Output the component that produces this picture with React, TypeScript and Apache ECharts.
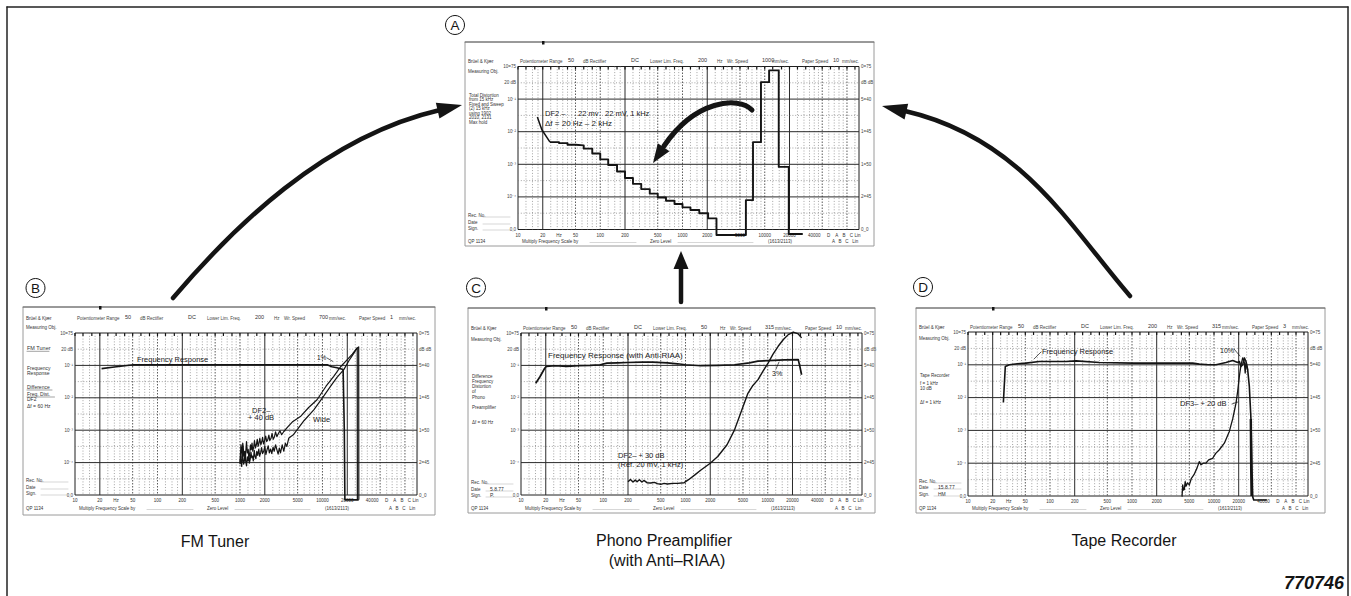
import React, { useEffect, useRef } from 'react';
import * as echarts from 'echarts';

// ---------------- shared scale data ----------------
const thirdOctaveMarks = [10, 12.5, 16, 20, 25, 31.5, 40, 50, 63, 80, 100, 125, 160, 200, 250, 315, 400, 500, 630, 800, 1000, 1250, 1600, 2000, 2500, 3150, 4000, 5000, 6300, 8000, 10000, 12500, 16000, 20000, 25000, 31500, 40000, 50000, 63000, 80000, 100000, 125000];
const majorFreqs = [20, 200, 2000, 20000];
const midFreqs = [50, 100, 500, 1000, 5000, 10000, 50000, 100000];
const minorFreqs = [12.5, 15, 17.5, 25, 30, 35, 40, 45, 60, 70, 80, 90, 125, 150, 175, 250, 300, 350, 400, 450, 600, 700, 800, 900, 1250, 1500, 1750, 2500, 3000, 3500, 4000, 4500, 6000, 7000, 8000, 9000, 12500, 15000, 17500, 25000, 30000, 35000, 40000, 45000, 60000, 70000, 80000, 90000, 125000];
const majorLevels = [10, 20, 30, 40];
const minorLevels = [5, 15, 25, 35, 45];
const xTickFreqs = [10, 20, 31.5, 50, 100, 200, 500, 1000, 2000, 5000, 10000, 20000, 40000];
const xTickLabels = ['10', '20', 'Hz', '50', '100', '200', '500', '1000', '2000', '5000', '10000', '20000', '40000'];
const filterFreqs = [60000, 75000, 92000, 113000, 134000];
const filterLabels = ['D', 'A', 'B', 'C', 'Lin'];
const leftLevelLabels = ['0,0', '', '10⁻⁴', '', '10⁻³', '', '10⁻²', '', '10⁻¹', '20 dB', '10=75'];
const rightLevelLabels = ['0_0', '', '2=45', '', '1=50', '', '1=45', '', '5=40', 'dB dB', '0=75'];

const headerLabels = ['Potentiometer Range', 'dB Rectifier', 'Lower Lim. Freq.', 'Hz', 'Wr. Speed', 'mm/sec.', 'Paper Speed', 'mm/sec.'];
const infoLabels = ['QP 1134', 'Multiply Frequency Scale by', 'Zero Level', '(1613/2113)', 'A   B   C   Lin'];
const recLabels = ['Rec. No.', 'Date', 'Sign.'];

// ---------------- chart A : total distortion ----------------
const aHeaderValues = ['50', 'DC', '200', '1000', '10'];
const aDesc = ['Total Distortion', 'from 15 kHz', 'Fixed and Sweep', '(2) 15 kHz', 'using 1902', '2010, 2131', 'Max hold'];
const aRecValues = ['', '', ''];
const aSweepStart = [[17.2, 34.5], [18.5, 32.2], [19.5, 30.6], [24.5, 26.8]];
const aStaircase = [[24.5, 26.8], [31.5, 26.5], [40, 26.0], [50, 25.8], [63, 24.8], [80, 23.3], [100, 21.5], [125, 19.8], [160, 17.8], [200, 15.8], [250, 14.0], [315, 12.4], [400, 11.0], [500, 9.8], [630, 8.8], [800, 7.8], [1000, 6.8], [1250, 6.0], [1600, 5.0], [2050, 3.4], [2590, -1.7], [5900, 9.0], [7200, 26.8], [9000, 45.2], [11300, 48.8], [14800, 19.2], [19600, -1.4], [29000, -1.4]];

// ---------------- chart B : FM tuner ----------------
const bHeaderValues = ['50', 'DC', '200', '700', '1'];
const bDesc = ['FM Tuner', 'Frequency', 'Response', 'Difference', 'Freq. Dist.', 'DF2', 'Δf = 60 Hz'];
const bRecValues = ['', '', ''];
const bFreqResponse = [[21, 39.0], [30, 39.5], [51, 40.2], [200, 40.2], [2000, 40.2], [11400, 40.2], [13000, 39.6], [15000, 39.3], [17800, 38.7], [18400, 20], [18700, -1.5], [27500, -1.5]];
const bDistNarrow = [[1000, 10], [1015, 13], [1030, 15.5], [1045, 14], [1060, 11.5], [1080, 16], [1095, 15], [1110, 12], [1140, 13.5], [1160, 11], [1185, 14.5], [1200, 16.5], [1230, 13], [1260, 14], [1280, 11.5], [1310, 12.5], [1340, 15.5], [1370, 14], [1400, 16], [1430, 13.5], [1470, 15], [1500, 16.8], [1540, 14.5], [1580, 15.5], [1620, 17.2], [1660, 15], [1700, 16], [1740, 17.5], [1790, 15.5], [1840, 16.5], [1880, 17.8], [1930, 15.8], [1990, 16.8], [2050, 18.2], [2110, 16.5], [2170, 17], [2240, 18.5], [2300, 16.8], [2380, 17.5], [2450, 19], [2530, 17.2], [2620, 18], [2700, 19.5], [2800, 18], [2900, 18.8], [3050, 19.8], [3200, 18.6], [3400, 19.6], [3800, 21], [4300, 22.5], [5400, 24.2], [6800, 27], [8600, 29.4], [11000, 33.5], [13700, 36.6], [16500, 39.5], [20000, 41.8], [23000, 43.5], [25200, 44.8], [26400, 45.4], [26500, -1.5]];
const bDistWide = [[1000, 9.5], [1020, 12], [1035, 10], [1050, 8.8], [1075, 12.8], [1090, 11], [1110, 9.5], [1130, 10.5], [1150, 13], [1175, 10.2], [1200, 9], [1225, 11.8], [1250, 10.5], [1280, 12.5], [1300, 9.8], [1330, 11], [1360, 13.2], [1390, 11.5], [1420, 12], [1450, 10.5], [1490, 13.8], [1520, 12], [1560, 11.2], [1600, 13.5], [1640, 12.2], [1690, 14.2], [1730, 12], [1780, 13], [1830, 14.6], [1880, 12.8], [1940, 13.5], [2000, 15], [2060, 12.5], [2130, 14], [2200, 15.2], [2270, 13], [2350, 14.2], [2430, 12.8], [2520, 14.8], [2600, 13.5], [2700, 15.5], [2800, 14], [2900, 12.6], [3000, 14.5], [3100, 13], [3250, 15.5], [3400, 13.5], [3550, 16], [3700, 15], [3900, 17.5], [4100, 18], [4400, 18.5], [4920, 20.1], [6000, 23], [7850, 26.3], [10000, 30], [12510, 33.5], [15000, 36.3], [18150, 38.7], [21000, 41.5], [24050, 43.8], [26400, 45.4], [27500, 45.7], [27600, -1.5]];

// ---------------- chart C : phono preamplifier ----------------
const cHeaderValues = ['50', 'DC', '50', '315', '10'];
const cDesc = ['Difference', 'Frequency', 'Distortion', 'of', 'Phono', 'Preamplifier', 'Δf = 60 Hz'];
const cRecValues = ['', '5.8.77', 'P.'];
const cFreqResponse = [[15.1, 34.5], [17, 36.5], [19.5, 39.2], [20.4, 39.7], [26, 39.9], [36, 39.7], [50, 39.9], [70, 40.0], [92, 40.2], [111, 40.7], [150, 40.8], [195, 40.9], [300, 41.0], [400, 41.0], [600, 40.8], [800, 40.5], [1000, 40.2], [1540, 39.9], [2500, 40.0], [3950, 40.2], [6000, 40.8], [7600, 41.3], [10000, 41.5], [16000, 41.7], [23500, 41.8], [24650, 39.5], [25800, 37.1]];
const cDist = [[200, 4.1], [214, 4.8], [230, 4.0], [245, 4.6], [258, 4.1], [275, 4.7], [295, 4.0], [312, 4.5], [340, 3.8], [377, 3.7], [420, 3.9], [454, 3.5], [500, 3.3], [550, 3.6], [602, 3.4], [700, 3.6], [800, 3.6], [964, 3.8], [1100, 4.8], [1300, 6.2], [1542, 7.7], [2000, 9.8], [2466, 11.9], [3200, 15.5], [3945, 20.1], [4800, 26], [5741, 31.4], [6600, 33.8], [7621, 35.6], [8800, 38.3], [10090, 40.7], [11600, 43.5], [13390, 45.9], [15500, 48], [17750, 49.5], [20420, 50.3], [23500, 49.7], [25820, 48.5]];

// ---------------- chart D : tape recorder ----------------
const dHeaderValues = ['50', 'DC', '200', '315', '3'];
const dDesc = ['Tape Recorder', 'f = 1 kHz', '10 dB', 'Δf = 1 kHz'];
const dRecValues = ['', '15.8.77', 'HM'];
const dFreqResponse = [[27, 28.5], [28.5, 39.5], [31.9, 40.0], [40, 40.3], [51, 40.5], [74, 41.0], [157, 41.0], [208, 41.2], [400, 40.7], [1019, 40.5], [2600, 40.5], [5495, 40.5], [6622, 40.2], [8500, 40.0], [10570, 40.0], [13990, 40.7], [16900, 41.3], [19450, 40.7], [20380, 41.0], [21340, 39.5], [22370, 40.0], [23430, 42.1], [24550, 41.0], [25740, 38.5], [26960, 33.4], [28250, 23.2], [29060, 7.9], [29630, -0.2], [30500, -1.2], [44000, -1.2]];
const dSpike = [[28100, 23.5], [28400, 8], [28700, 0]];
const dDist = [[4074, -0.2], [4150, 3.4], [4250, 1.8], [4346, 2.0], [4450, 4.4], [4557, 3.0], [4750, 4.0], [5000, 3.4], [5300, 5.4], [5700, 6.5], [6200, 8.5], [6622, 10.5], [6936, 9.5], [7400, 10.0], [7980, 10.0], [8600, 11.0], [9630, 11.5], [10500, 13.0], [11610, 14.1], [13370, 16.1], [14400, 18], [15380, 19.7], [16900, 23.5], [18550, 28.3], [19450, 32], [20380, 36.5], [21340, 40.0], [22370, 42.1], [23430, 40.7], [24000, 37.5], [24550, 40.5], [25740, 38.5]];

// ---------------- layout / styles ----------------
const FONT = '"Liberation Sans", Arial, Helvetica, sans-serif';
const F_MIN = 10;
const F_MAX = 140000;
const INK = '#141414';

const layouts = [
  { plot: { left: 518, top: 66.5, width: 341, height: 163 }, paper: { x: 465, y: 42, w: 409, h: 204 }, headerY: 61, measY: 71, infoY: 241, recY: [215, 222, 228], descY: [95, 99.5, 104, 108.5, 113, 117.5, 122], descSize: [4.5, 4.5, 4.5, 4.5, 4.5, 4.5, 4.5], underline: [] as number[] },
  { plot: { left: 75, top: 333, width: 342, height: 162 }, paper: { x: 23, y: 307, w: 412, h: 208 }, headerY: 318, measY: 327, infoY: 508, recY: [480, 487, 493], descY: [348, 368, 373, 387, 394, 399, 406], descSize: [5.5, 5, 5, 5, 5, 5, 5], underline: [0, 3, 4] },
  { plot: { left: 521, top: 333, width: 341, height: 162 }, paper: { x: 468, y: 308, w: 407, h: 205 }, headerY: 328, measY: 339, infoY: 508, recY: [482, 489, 495], descY: [376, 381, 386, 391, 397, 407, 422], descSize: [4.5, 4.5, 4.5, 4.5, 4.5, 4.5, 4.5], underline: [] as number[] },
  { plot: { left: 968, top: 332, width: 340, height: 164 }, paper: { x: 916, y: 308, w: 409, h: 205 }, headerY: 327, measY: 338, infoY: 508, recY: [481, 487, 494], descY: [375, 383, 388, 402], descSize: [4.5, 4.5, 4.5, 4.5], underline: [] as number[] },
];
const headerOffsets = { labels: [2, 65, 132, 199, 209, 254, 284, 324], values: [50, 113, 180, 244, 315] };
const infoOffsets = [0, 4, 132, 250, 314];

const chartTexts = [
  { header: aHeaderValues, desc: aDesc, rec: aRecValues },
  { header: bHeaderValues, desc: bDesc, rec: bRecValues },
  { header: cHeaderValues, desc: cDesc, rec: cRecValues },
  { header: dHeaderValues, desc: dDesc, rec: dRecValues },
];

const chartCurves: { data: number[][]; width: number; step?: string }[][] = [
  [{ data: aSweepStart, width: 1.5 }, { data: aStaircase, width: 1.9, step: 'end' }],
  [{ data: bFreqResponse, width: 1.6 }, { data: bDistNarrow, width: 1.2 }, { data: bDistWide, width: 1.2 }],
  [{ data: cFreqResponse, width: 1.7 }, { data: cDist, width: 1.4 }],
  [{ data: dFreqResponse, width: 1.6 }, { data: dSpike, width: 2.4 }, { data: dDist, width: 1.3 }],
];

const vStyles = [
  { stroke: '#7d7d7d', lineWidth: 0.7, lineDash: [1, 1.8] },
  { stroke: '#4a4a4a', lineWidth: 0.9, lineDash: [1.5, 1.5] },
  { stroke: '#2b2b2b', lineWidth: 1 },
];

function txt(x: number, y: number, text: string, size: number, o: any = {}) {
  return {
    type: 'text', x, y, z: o.z ?? 50, silent: true,
    style: {
      text, fontSize: size, fontFamily: FONT, fill: o.fill ?? '#222',
      align: o.align ?? 'left', verticalAlign: 'middle',
      fontWeight: o.bold ? 'bold' : 'normal', fontStyle: o.italic ? 'italic' : 'normal',
    },
  };
}
function ln(x1: number, y1: number, x2: number, y2: number, w = 1, stroke = INK, z = 50) {
  return { type: 'line', z, silent: true, shape: { x1, y1, x2, y2 }, style: { stroke, lineWidth: w, lineCap: 'round' } };
}
function head(tipX: number, tipY: number, dx: number, dy: number, len: number, hw: number) {
  const n = Math.hypot(dx, dy);
  const ux = dx / n, uy = dy / n;
  const bx = tipX - ux * len, by = tipY - uy * len;
  return {
    type: 'polygon', z: 60, silent: true,
    shape: { points: [[tipX, tipY], [bx - uy * hw, by + ux * hw], [bx + uy * hw, by - ux * hw]] },
    style: { fill: INK },
  };
}
function curveArrow(s: number[], c1: number[], c2: number[], e: number[], w: number) {
  return {
    type: 'bezierCurve', z: 60, silent: true,
    shape: { x1: s[0], y1: s[1], cpx1: c1[0], cpy1: c1[1], cpx2: c2[0], cpy2: c2[1], x2: e[0], y2: e[1] },
    style: { stroke: INK, lineWidth: w, fill: null, lineCap: 'round' },
  };
}

function paperGraphics(i: number) {
  const L = layouts[i];
  const T = chartTexts[i];
  const p = L.plot;
  const g: any[] = [];
  g.push({ type: 'rect', z: 1, silent: true, shape: { x: L.paper.x, y: L.paper.y, width: L.paper.w, height: L.paper.h }, style: { fill: 'none', stroke: '#9a9a9a', lineWidth: 1 } });
  g.push(ln(L.paper.x, L.paper.y, L.paper.x + L.paper.w, L.paper.y, 1, '#666', 2));
  g.push({ type: 'rect', z: 3, silent: true, shape: { x: p.left + 24, y: L.paper.y - 1, width: 2.5, height: 3.5 }, style: { fill: INK } });
  g.push(txt(L.paper.x + 3, L.headerY, 'Brüel & Kjær', 4.5, { fill: '#333' }));
  headerLabels.forEach((t, k) => g.push(txt(p.left + headerOffsets.labels[k], L.headerY, t, 4.5, { fill: '#444' })));
  T.header.forEach((t, k) => g.push(txt(p.left + headerOffsets.values[k], L.headerY - 1, t, 5.5, { fill: '#333' })));
  g.push(txt(L.paper.x + 3, L.measY, 'Measuring Obj.', 4.5, { fill: '#333' }));
  T.desc.forEach((t, k) => {
    const sz = L.descSize[k];
    g.push(txt(L.paper.x + 4, L.descY[k], t, sz, { fill: '#333' }));
    if (L.underline.includes(k)) {
      const wdt = t.length * sz * 0.5;
      g.push(ln(L.paper.x + 4, L.descY[k] + sz * 0.6, L.paper.x + 4 + wdt, L.descY[k] + sz * 0.6, 0.5, '#444'));
    }
  });
  recLabels.forEach((t, k) => {
    g.push(txt(L.paper.x + 3, L.recY[k], t, 4.5, { fill: '#333' }));
    g.push(ln(L.paper.x + 18, L.recY[k] + 2, L.paper.x + 45, L.recY[k] + 2, 0.4, '#999'));
    if (T.rec[k]) g.push(txt(L.paper.x + 22, L.recY[k] - 0.5, T.rec[k], 5, { fill: '#333' }));
  });
  infoLabels.forEach((t, k) => {
    const x = k === 0 ? L.paper.x + 3 : p.left + infoOffsets[k];
    g.push(txt(x, L.infoY, t, 4.5, { fill: '#333' }));
  });
  g.push(ln(p.left + 72, L.infoY + 1.5, p.left + 118, L.infoY + 1.5, 0.4, '#999'));
  g.push(ln(p.left + 160, L.infoY + 1.5, p.left + 235, L.infoY + 1.5, 0.4, '#999'));
  return g;
}

function buildOption() {
  const grids: any[] = [];
  const xAxes: any[] = [];
  const yAxes: any[] = [];
  const series: any[] = [];

  const verticalGrid = [
    ...minorFreqs.map((f) => [f, 0]),
    ...midFreqs.map((f) => [f, 1]),
    ...majorFreqs.map((f) => [f, 2]),
  ];
  const horizontalGrid = [
    ...minorLevels.map((v) => [F_MIN, v, 0]),
    ...majorLevels.map((v) => [F_MIN, v, 2]),
  ];

  layouts.forEach((L, i) => {
    grids.push({ left: L.plot.left, top: L.plot.top, width: L.plot.width, height: L.plot.height, show: true, borderColor: '#1e1e1e', borderWidth: 1, backgroundColor: 'transparent' });
    xAxes.push({ type: 'log', logBase: 10, min: F_MIN, max: F_MAX, gridIndex: i, show: false });
    yAxes.push({
      type: 'value', gridIndex: i, min: 0, max: 50, interval: 5, position: 'left',
      axisLine: { show: false }, axisTick: { show: false }, splitLine: { show: false },
      axisLabel: { show: true, fontSize: 4.5, color: '#444', margin: 2, fontFamily: FONT, formatter: (v: number) => leftLevelLabels[Math.round(v / 5)] ?? '' },
    });
  });
  layouts.forEach((L, i) => {
    yAxes.push({
      type: 'value', gridIndex: i, min: 0, max: 50, interval: 5, position: 'right',
      axisLine: { show: false }, axisTick: { show: false }, splitLine: { show: false },
      axisLabel: { show: true, fontSize: 4.5, color: '#444', margin: 2, fontFamily: FONT, formatter: (v: number) => rightLevelLabels[Math.round(v / 5)] ?? '' },
    });
    series.push({ type: 'line', xAxisIndex: i, yAxisIndex: 4 + i, data: [], silent: true });
  });

  layouts.forEach((L, i) => {
    series.push({
      type: 'custom', xAxisIndex: i, yAxisIndex: i, silent: true, z: 1, data: verticalGrid,
      renderItem: (params: any, api: any) => {
        const f = api.value(0);
        const k = api.value(1);
        const a = api.coord([f, 50]);
        const b = api.coord([f, 0]);
        return { type: 'line', shape: { x1: a[0], y1: a[1], x2: b[0], y2: b[1] }, style: vStyles[k] };
      },
    });
    series.push({
      type: 'custom', xAxisIndex: i, yAxisIndex: i, silent: true, z: 1, data: horizontalGrid,
      renderItem: (params: any, api: any) => {
        const v = api.value(1);
        const k = api.value(2);
        const a = api.coord([F_MIN, v]);
        const b = api.coord([F_MAX, v]);
        return { type: 'line', shape: { x1: a[0], y1: a[1], x2: b[0], y2: b[1] }, style: vStyles[k] };
      },
    });
    series.push({
      type: 'custom', xAxisIndex: i, yAxisIndex: i, silent: true, z: 3, data: thirdOctaveMarks.map((f) => [f, 50]),
      renderItem: (params: any, api: any) => {
        const pt = api.coord([api.value(0), 50]);
        return { type: 'line', shape: { x1: pt[0], y1: pt[1], x2: pt[0], y2: pt[1] + 3 }, style: { stroke: INK, lineWidth: 1.2 } };
      },
    });
    series.push({
      type: 'custom', xAxisIndex: i, yAxisIndex: i, silent: true, z: 3, data: xTickFreqs.map((f) => [f, 0]),
      renderItem: (params: any, api: any) => {
        const pt = api.coord([api.value(0), 0]);
        return { type: 'text', x: pt[0], y: pt[1] + 5.5, style: { text: xTickLabels[params.dataIndex], fontSize: 4.5, fontFamily: FONT, fill: '#333', align: 'center', verticalAlign: 'middle' } };
      },
    });
    series.push({
      type: 'custom', xAxisIndex: i, yAxisIndex: i, silent: true, z: 3, data: filterFreqs.map((f) => [f, 0]),
      renderItem: (params: any, api: any) => {
        const pt = api.coord([api.value(0), 0]);
        return { type: 'text', x: pt[0], y: pt[1] + 5.5, style: { text: filterLabels[params.dataIndex], fontSize: 4.5, fontFamily: FONT, fill: '#333', align: 'center', verticalAlign: 'middle' } };
      },
    });
    chartCurves[i].forEach((c) => {
      series.push({
        type: 'line', xAxisIndex: i, yAxisIndex: i, data: c.data, showSymbol: false, symbol: 'none',
        clip: false, silent: true, z: 5, step: c.step ?? false,
        lineStyle: { color: INK, width: c.width, join: 'round' },
      });
    });
  });

  const graphic: any[] = [];
  graphic.push(ln(7, 7, 1348, 7, 1.5, '#222', 5));
  graphic.push(ln(7, 7, 7, 596, 1.5, '#222', 5));
  graphic.push(ln(1348, 7, 1348, 596, 1.5, '#222', 5));
  layouts.forEach((_, i) => graphic.push(...paperGraphics(i)));

  // annotations A
  graphic.push(txt(545, 113.5, 'DF2 –', 7.5));
  graphic.push(txt(578, 113.5, '22 mv', 7.5));
  graphic.push(txt(605, 113.5, '22 mV, 1 kHz', 7.5));
  graphic.push(txt(545, 123, 'Δf = 20 Hz – 2 kHz', 8));
  // annotations B
  graphic.push(txt(137, 359.5, 'Frequency Response', 7.5));
  graphic.push(txt(317, 357, '1%', 6.5));
  graphic.push(ln(327, 358, 333, 361.5, 0.7));
  graphic.push(txt(252, 410, 'DF2–', 7.5));
  graphic.push(txt(248, 417.5, '+ 40 dB', 7.5));
  graphic.push(txt(313, 419.5, 'Wide', 7.5));
  // annotations C
  graphic.push(txt(548, 355, 'Frequency Response (with Anti-RIAA)', 8));
  graphic.push(txt(772, 373.5, '3%', 7));
  graphic.push(ln(776, 369, 779, 362, 0.7));
  graphic.push(txt(618, 455, 'DF2– + 30 dB', 7.5));
  graphic.push(txt(618, 464.5, '(Ref. 20 mV, 1 kHz)', 7.5));
  // annotations D
  graphic.push(txt(1042, 351, 'Frequency Response', 7.5));
  graphic.push(ln(1034, 359, 1041, 352, 0.7));
  graphic.push(txt(1220, 350, '10%', 7));
  graphic.push(ln(1234, 349, 1240, 356, 0.7));
  graphic.push(txt(1180, 403, 'DF3– + 20 dB', 7.5));
  graphic.push(ln(1232, 404, 1238, 402, 0.7));

  // arrows
  graphic.push(curveArrow([173, 298], [231, 230], [323, 137], [440, 110], 4.5));
  graphic.push(head(462, 105, 117, -27, 25, 8));
  graphic.push(curveArrow([1130, 296], [1071, 228], [1022, 138], [905, 111], 4.5));
  graphic.push(head(882, 106, -117, -27, 25, 8));
  graphic.push(ln(681, 302, 681, 266, 4.5, INK, 60));
  graphic.push(head(681, 251, 0, -1, 18, 7.5));
  graphic.push(curveArrow([752, 110], [738, 96], [695, 100], [664, 146], 5));
  graphic.push(head(653, 163, -0.559, 0.829, 19, 7));

  // circled letters
  [['A', 455, 25], ['B', 35.5, 288], ['C', 476, 287.5], ['D', 923, 287]].forEach(([l, cx, cy]) => {
    graphic.push({ type: 'circle', z: 55, silent: true, shape: { cx, cy, r: 9.5 }, style: { fill: '#fff', stroke: INK, lineWidth: 1 } });
    graphic.push(txt(cx as number, (cy as number) + 0.5, l as string, 13.5, { align: 'center', fill: INK, z: 70 }));
  });

  // titles
  graphic.push(txt(215, 541, 'FM Tuner', 16, { align: 'center', fill: INK }));
  graphic.push(txt(664, 540, 'Phono Preamplifier', 16, { align: 'center', fill: INK }));
  graphic.push(txt(667, 560, '(with Anti–RIAA)', 16, { align: 'center', fill: INK }));
  graphic.push(txt(1124, 540, 'Tape Recorder', 16, { align: 'center', fill: INK }));
  graphic.push(txt(1344, 583, '770746', 18, { align: 'right', bold: true, italic: true, fill: INK }));

  return {
    animation: false,
    backgroundColor: '#ffffff',
    grid: grids,
    xAxis: xAxes,
    yAxis: yAxes,
    series,
    graphic,
  };
}

export default function App() {
  const ref = useRef<HTMLDivElement>(null);
  useEffect(() => {
    document.body.style.margin = '0';
    if (!ref.current) return;
    const chart = echarts.init(ref.current, null, { renderer: 'svg' });
    chart.setOption(buildOption() as any);
    return () => chart.dispose();
  }, []);
  return <div ref={ref} style={{ position: 'absolute', left: 0, top: 0, width: 1351, height: 596 }} />;
}
